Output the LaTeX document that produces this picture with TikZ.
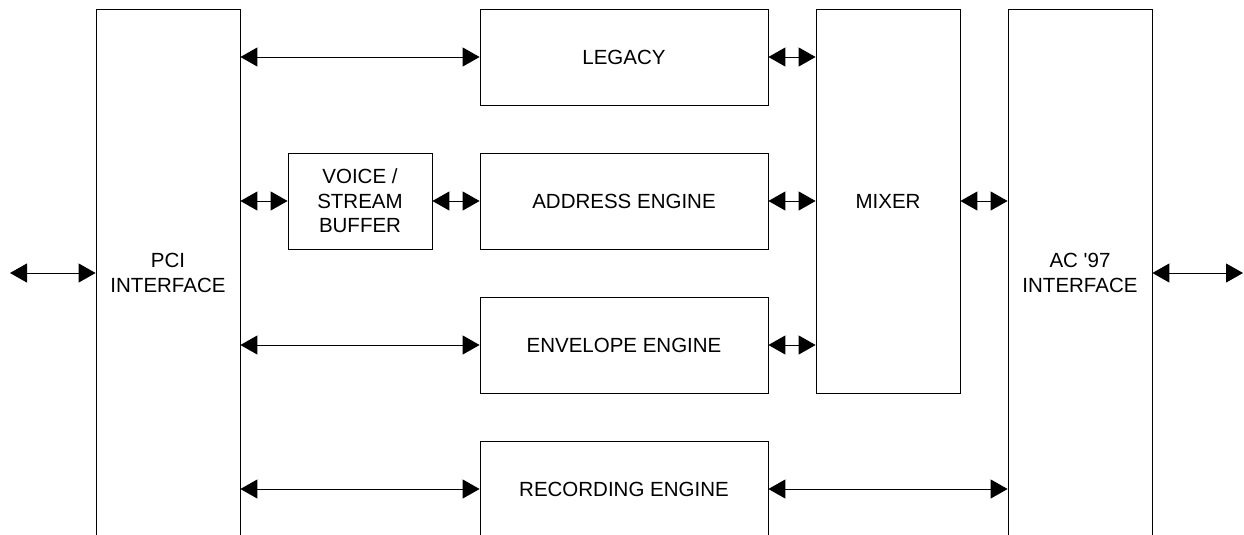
\documentclass[tikz,border=0pt]{standalone}
\usepackage{fontspec}
\setmainfont{Liberation Sans}
\usetikzlibrary{arrows.meta}
\usetikzlibrary{positioning}

\begin{document}
\begin{tikzpicture}[x=1pt,y=-1pt,
        blk/.style={rectangle,draw,line width=0.8pt,minimum width=144pt,minimum height=96pt,
            align=center,inner sep=0pt,font=\fontsize{20.5}{24.5}\selectfont},
        link/.style={line width=0.9pt,{Triangle[length=17pt,width=19pt]}-{Triangle[length=17pt,width=19pt]}}]

    \useasboundingbox (0,0) rectangle (1244,535);
    \clip (0,0) rectangle (1244,535);

    % Interfaces
    \node[blk,minimum height=528pt] (pci) at (168,273) {PCI\\INTERFACE};
    \node[blk,minimum height=528pt] (ac) at (1080,273) {AC \textquotesingle97\\INTERFACE};

    % Mixer
    \node[blk,minimum height=384pt] (mixer) at (888,201) {MIXER};

    % Engines
    \node[blk,minimum width=288pt] (legacy) at (624,57) {LEGACY};
    \node[blk,minimum width=288pt] (addr) at (624,201) {ADDRESS ENGINE};
    \node[blk,minimum width=288pt] (env) at (624,345) {ENVELOPE ENGINE};
    \node[blk,minimum width=288pt,minimum height=192pt] (rec) at (624,537) {};
    \node[font=\fontsize{20.5}{24.5}\selectfont] (reclabel) at (624,489) {RECORDING ENGINE};

    % Buffer
    \node[blk] (vsb) at (360,201) {VOICE /\\STREAM\\BUFFER};

    % Busses outside
    \coordinate (pcibus) at (10,273);
    \coordinate (acbus) at (1243,273);
    \draw[link] (pcibus) -- (pci.west);
    \draw[link] (ac.east) -- (acbus);

    % PCI side
    \draw[link] (pci.east |- legacy) -- (legacy.west);
    \draw[link] (pci.east |- vsb) -- (vsb.west);
    \draw[link] (vsb.east) -- (addr.west);
    \draw[link] (pci.east |- env) -- (env.west);
    \draw[link] (pci.east |- reclabel) -- (rec.west |- reclabel);

    % Mixer side
    \draw[link] (legacy.east) -- (mixer.west |- legacy);
    \draw[link] (addr.east) -- (mixer.west |- addr);
    \draw[link] (env.east) -- (mixer.west |- env);
    \draw[link] (mixer.east |- addr) -- (ac.west |- addr);
    \draw[link] (rec.east |- reclabel) -- (ac.west |- reclabel);

\end{tikzpicture}
\end{document}
